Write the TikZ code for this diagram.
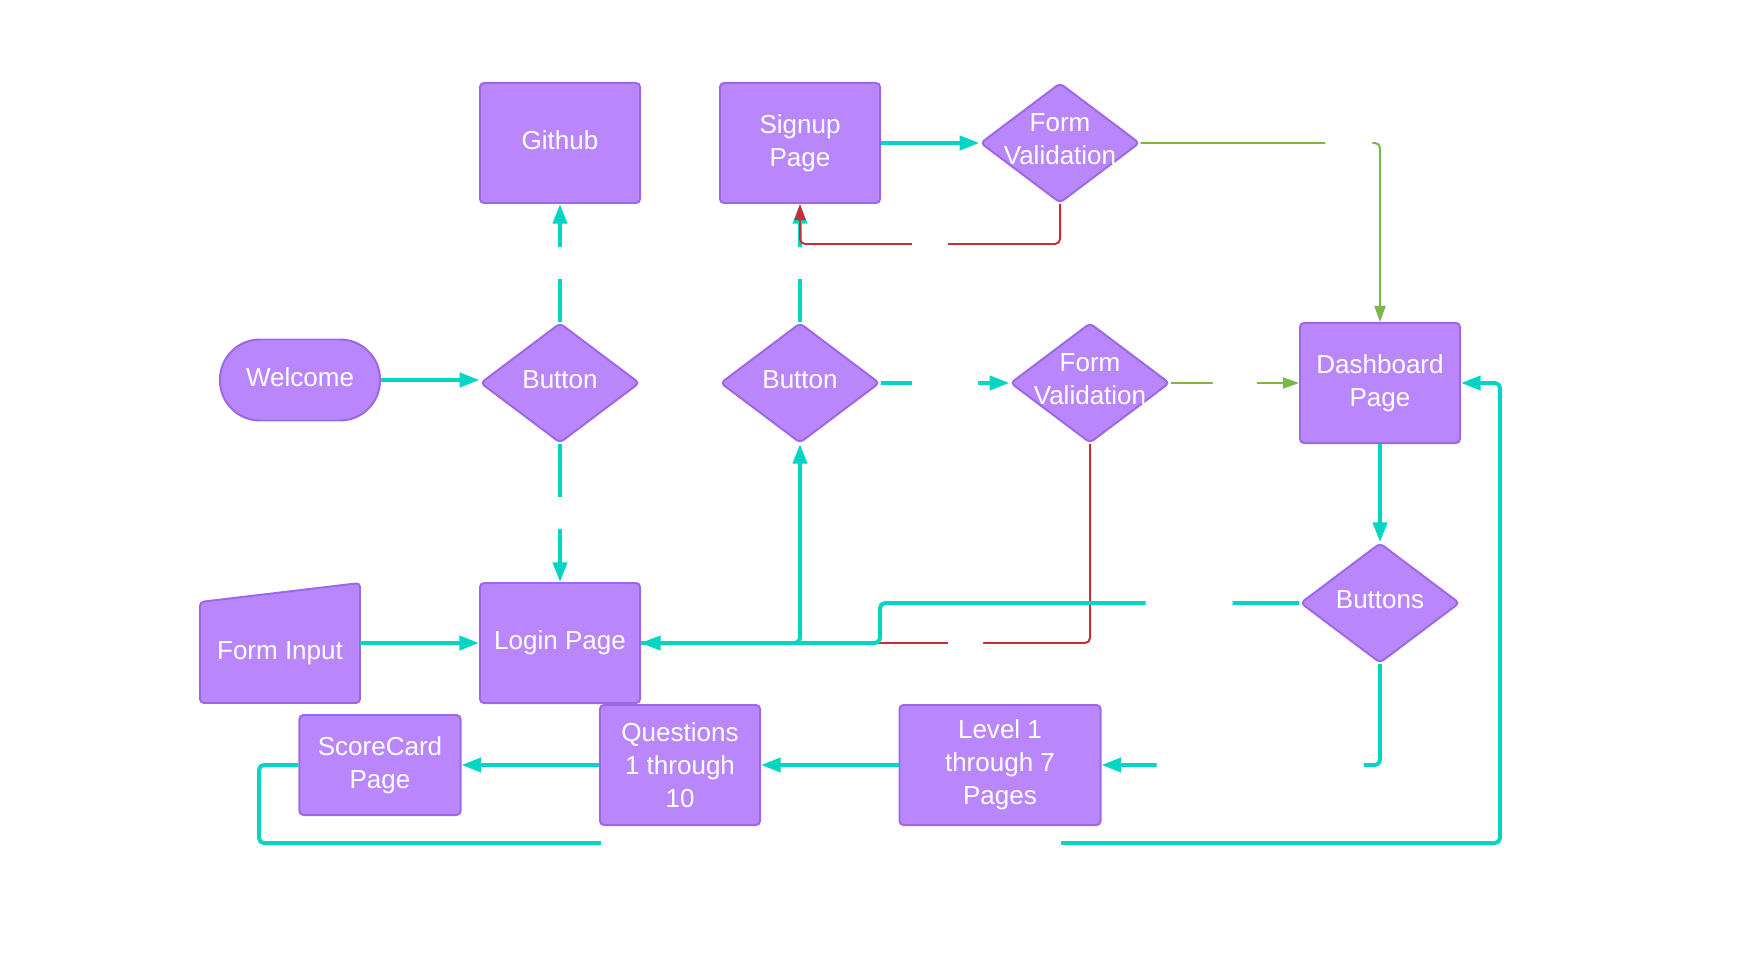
\documentclass[tikz,border=0pt]{standalone}
\usepackage{fontspec}
\setmainfont{Liberation Sans}
\usepackage{tikz}
\usetikzlibrary{arrows.meta}
\usetikzlibrary{shapes.geometric}

\definecolor{boxfill}{HTML}{B987FB}
\definecolor{boxline}{HTML}{9C68E6}
\definecolor{tealline}{HTML}{00D6C3}
\definecolor{redline}{HTML}{C92D39}
\definecolor{greenline}{HTML}{7AB648}

\tikzset{
  txt/.style={text=white, font=\fontsize{18.5}{23.5}\selectfont, align=center},
  dtxt/.style={txt, yshift=0.85mm},
  box/.style={draw=boxline, fill=boxfill, line width=1.4pt, rounded corners=0.1cm,
    minimum width=4cm, minimum height=3cm, inner sep=0pt, txt},
  dia/.style={diamond, draw=boxline, fill=boxfill, line width=1.4pt, rounded corners=0.1cm,
    minimum width=3.98cm, minimum height=3cm, inner sep=0pt},
  tl/.style={draw=tealline, line width=2.8pt, rounded corners=0.125cm, -{Triangle[length=14pt,width=10pt]}},
  rl/.style={draw=redline, line width=1.4pt, rounded corners=0.125cm, -{Triangle[length=11.4pt,width=7.8pt]}},
  gl/.style={draw=greenline, line width=1.4pt, rounded corners=0.125cm, -{Triangle[length=11.4pt,width=7.8pt]}},
  hgap/.style={fill=white, inner sep=0pt, minimum height=0.3cm, minimum width=#1},
  vgap/.style={fill=white, inner sep=0pt, minimum width=0.3cm, minimum height=#1},
}

\begin{document}
\begin{tikzpicture}[x=0.025cm, y=-0.025cm]
              \useasboundingbox (0,0) rectangle (1760,957);

              \draw (560,143) node[box, text depth=4.5pt]  (github) {Github};
              \draw (800,143) node[box]                   (signup) {Signup\\Page};
              \draw (1060,143) node[dia, label={[dtxt]center:{Form\\Validation}}] (fv1) {};
              \draw (300,380) node[box, minimum height=2.025cm, rounded corners=1cm, text depth=4.5pt] (welcome) {Welcome};
              \draw (560,383) node[dia, label={[dtxt]center:Button}] (btn1) {};
              \draw (800,383) node[dia, label={[dtxt]center:Button}] (btn2) {};
              \draw (1090,383) node[dia, label={[dtxt]center:{Form\\Validation}}] (fv2) {};
              \draw (1380,383) node[box]                  (dash) {Dashboard\\Page};
              \draw (1380,603) node[dia, label={[dtxt]center:Buttons}] (btns) {};
              \filldraw[draw=boxline, fill=boxfill, line width=1.4pt, rounded corners=0.1cm]
                (200,602) -- (360,583) -- (360,703) -- (200,703) -- cycle;
              \draw (280,653) node[txt, minimum width=4cm] (fin) {Form Input};
              \draw (560,643) node[box]                   (login) {Login Page};
              \draw (380,765) node[box, minimum width=4.025cm, minimum height=2.5cm] (score) {ScoreCard\\Page};
              \draw (680,765) node[box]                   (quest) {Questions\\1 through\\10};
              \draw (1000,765) node[box, minimum width=5.025cm] (level) {Level 1\\through 7\\Pages};

              \draw[tl] (welcome.east) -- (welcome.east -| btn1.west);
              \draw[tl] (btn1.north) -- node[vgap=0.8cm] {} (github.south);
              \draw[tl] (btn1.south) -- node[vgap=0.8cm] {} (login.north);
              \draw[tl] (btn2.north) -- node[vgap=0.8cm] {} (signup.south);
              \draw[tl] (signup.east) -- (fv1.west);
              \draw[rl] (fv1.south) -- ++(0,40) -| node[hgap=0.9cm, pos=0.25] {} (signup.south);
              \draw[gl] (fv1.east) -| node[hgap=1.175cm, pos=0.435] {} (dash.north);
              \draw[tl] (btn2.east) -- node[hgap=1.65cm] {} (fv2.west);
              \draw[gl] (fv2.east) -- node[hgap=1.1cm] {} (dash.west);
              \draw[rl] (fv2.south) -- (fv2.south |- login.east) -- node[hgap=0.875cm, pos=0.277] {} (login.east);
              \draw[tl] (login.east) -| (btn2.south);
              \draw[tl] (btns.west) -- node[hgap=2.175cm, pos=0.263] {} (880,603) |- (login.east);
              \draw[tl] (fin.east |- login.west) -- (login.west);
              \draw[tl] (dash.south) -- (btns.north);
              \draw[tl] (btns.south) |- node[hgap=5.175cm, pos=0.715] {} (level.east);
              \draw[tl] (level.west) -- (quest.east);
              \draw[tl] (quest.west) -- (score.east);
              \draw[tl] (score.west) -| (259,843) -- node[hgap=11.5cm, pos=0.461] {} (1500,843) |- (dash.east);

              \end{tikzpicture}
\end{document}
